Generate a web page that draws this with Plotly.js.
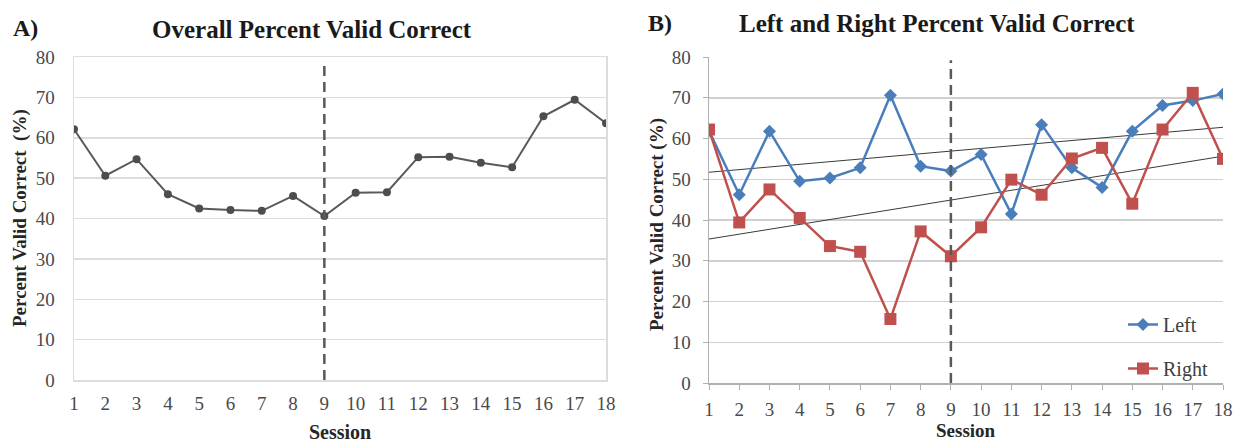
<!DOCTYPE html>
<html>
<head>
<meta charset="utf-8">
<script src="https://cdn.plot.ly/plotly-3.0.1.min.js"></script>
<style>html,body{margin:0;padding:0;background:#fff;}#chart{width:1238px;height:443px;}</style>
</head>
<body>
<div id="chart"></div>
<script>
var sessions = [1,2,3,4,5,6,7,8,9,10,11,12,13,14,15,16,17,18];
var sessionLabels = sessions.map(String);
var overall = [62.1,50.6,54.7,46.0,42.5,42.1,41.9,45.6,40.6,46.4,46.5,55.2,55.3,53.8,52.7,65.3,69.4,63.6];
var leftVals = [61.9,46.2,61.8,49.5,50.3,52.8,70.6,53.2,52.0,56.1,41.5,63.4,52.8,48.0,61.8,68.1,69.3,70.9];
var rightVals = [62.2,39.4,47.5,40.5,33.6,32.2,15.7,37.2,31.1,38.2,49.9,46.2,55.1,57.7,44.0,62.2,71.2,55.0];
var yTicks = [0,10,20,30,40,50,60,70,80];
var phaseChange = 9;

function linfit(xs, ys) {
  var n = xs.length, mx = 0, my = 0;
  for (var i = 0; i < n; i++) { mx += xs[i]; my += ys[i]; }
  mx /= n; my /= n;
  var sxy = 0, sxx = 0;
  for (var j = 0; j < n; j++) { sxy += (xs[j]-mx)*(ys[j]-my); sxx += (xs[j]-mx)*(xs[j]-mx); }
  var b = sxy / sxx, a = my - b*mx;
  return xs.map(function(x){ return a + b*x; });
}

var serif = "'Liberation Serif', 'Times New Roman', serif";
var tickFont = {family: serif, size: 19, color: "#4a4a4a"};

var traces = [
  {x: sessions, y: overall, xaxis: "x", yaxis: "y", mode: "lines+markers", showlegend: false,
   line: {color: "#595959", width: 2}, marker: {symbol: "circle", size: 8, color: "#4d4d4d"}},
  {x: sessions, y: linfit(sessions, leftVals), xaxis: "x2", yaxis: "y2", mode: "lines", showlegend: false,
   line: {color: "#3a3a3a", width: 1}},
  {x: sessions, y: linfit(sessions, rightVals), xaxis: "x2", yaxis: "y2", mode: "lines", showlegend: false,
   line: {color: "#3a3a3a", width: 1}},
  {x: sessions, y: leftVals, xaxis: "x2", yaxis: "y2", mode: "lines+markers", name: "Left", legend: "legend",
   line: {color: "#4a7ebb", width: 2.5}, marker: {symbol: "diamond", size: 10, color: "#4a7ebb"}},
  {x: sessions, y: rightVals, xaxis: "x2", yaxis: "y2", mode: "lines+markers", name: "Right", legend: "legend2",
   line: {color: "#c0504d", width: 2.5}, marker: {symbol: "square", size: 12, color: "#c0504d"}}
];

var gridCol = "#dcdcdc";
var layout = {
  width: 1238, height: 443,
  margin: {l: 0, r: 0, t: 0, b: 0},
  paper_bgcolor: "#fff", plot_bgcolor: "#fff",
  showlegend: true,
  xaxis: {domain: [74/1238, 606/1238], range: [1, 18], tickvals: sessions, ticktext: sessionLabels,
          showgrid: false, zeroline: false, showline: true, linecolor: gridCol, linewidth: 1.5, mirror: true,
          ticks: "", tickfont: tickFont, anchor: "y", ticklabelstandoff: 6},
  yaxis: {domain: [1-380/443, 1-57/443], range: [0, 80], tickvals: yTicks, showgrid: true, gridcolor: gridCol,
          gridwidth: 1.5, zeroline: false, showline: true, linecolor: gridCol, linewidth: 1.5, mirror: true,
          ticks: "", tickfont: tickFont, anchor: "x", ticklabelstandoff: 14},
  xaxis2: {domain: [709/1238, 1223/1238], range: [1, 18], tickvals: sessions, ticktext: sessionLabels,
          showgrid: false, zeroline: false, showline: true, linecolor: "#b0b0b0", linewidth: 1.5,
          ticks: "outside", ticklen: 5, tickcolor: "#b0b0b0", tickfont: tickFont, anchor: "y2", ticklabelstandoff: 4},
  yaxis2: {domain: [1-383/443, 1-57/443], range: [0, 80], tickvals: yTicks, showgrid: true, gridcolor: "#d0d0d0",
          gridwidth: 1.5, zeroline: false, showline: true, linecolor: "#b0b0b0", linewidth: 1.5,
          ticks: "outside", ticklen: 5, tickcolor: "#b0b0b0", tickfont: tickFont, anchor: "x2", ticklabelstandoff: 8},
  legend: {x: 1123/1238, y: 1-305/443, xanchor: "left", yanchor: "top", bgcolor: "rgba(0,0,0,0)",
           font: {family: serif, size: 20, color: "#404040"}, itemwidth: 30},
  legend2: {x: 1123/1238, y: 1-349/443, xanchor: "left", yanchor: "top", bgcolor: "rgba(0,0,0,0)",
           font: {family: serif, size: 20, color: "#404040"}, itemwidth: 30},
  shapes: [
    {type: "line", xref: "x", yref: "y", x0: phaseChange, x1: phaseChange, y0: 0, y1: 78.6,
     line: {color: "#595959", width: 2.5, dash: "10px,6px"}},
    {type: "line", xref: "x2", yref: "y2", x0: phaseChange, x1: phaseChange, y0: 0, y1: 79.2,
     line: {color: "#595959", width: 2.5, dash: "10px,6px"}}
  ],
  annotations: [
    {text: "<b>A)</b>", xref: "paper", yref: "paper", x: 25/1238, y: 1-28/443, xanchor: "center", yanchor: "middle", showarrow: false,
     font: {family: serif, size: 24, color: "#1a1a1a"}},
    {text: "<b>Overall Percent Valid Correct</b>", xref: "paper", yref: "paper", x: 312/1238, y: 1-30/443, xanchor: "center", yanchor: "middle", showarrow: false,
     font: {family: serif, size: 25, color: "#1a1a1a"}},
    {text: "<b>B)</b>", xref: "paper", yref: "paper", x: 660/1238, y: 1-23/443, xanchor: "center", yanchor: "middle", showarrow: false,
     font: {family: serif, size: 24, color: "#1a1a1a"}},
    {text: "<b>Left and Right Percent Valid Correct</b>", xref: "paper", yref: "paper", x: 937/1238, y: 1-24/443, xanchor: "center", yanchor: "middle", showarrow: false,
     font: {family: serif, size: 25, color: "#1a1a1a"}},
    {text: "<b>Percent Valid Correct \u00a0(%)</b>", xref: "paper", yref: "paper", x: 20/1238, y: 1-218/443, xanchor: "center", yanchor: "middle", showarrow: false,
     textangle: -90, font: {family: serif, size: 19, color: "#262626"}},
    {text: "<b>Percent Valid Correct (%)</b>", xref: "paper", yref: "paper", x: 657/1238, y: 1-225/443, xanchor: "center", yanchor: "middle", showarrow: false,
     textangle: -90, font: {family: serif, size: 19, color: "#262626"}},
    {text: "<b>Session</b>", xref: "paper", yref: "paper", x: 340/1238, y: 1-432/443, xanchor: "center", yanchor: "middle", showarrow: false,
     font: {family: serif, size: 20, color: "#262626"}},
    {text: "<b>Session</b>", xref: "paper", yref: "paper", x: 966/1238, y: 1-430/443, xanchor: "center", yanchor: "middle", showarrow: false,
     font: {family: serif, size: 19, color: "#262626"}}
  ]
};

Plotly.newPlot("chart", traces, layout, {staticPlot: true, displayModeBar: false});
</script>
</body>
</html>
